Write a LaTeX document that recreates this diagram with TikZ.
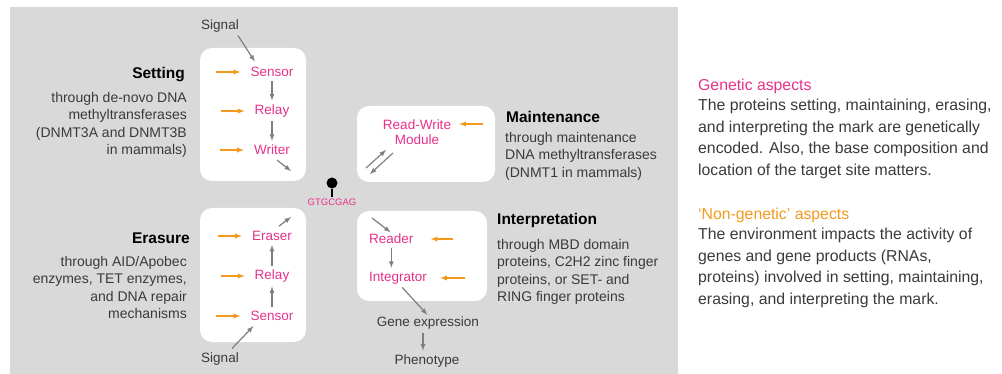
\documentclass[tikz,border=0pt]{standalone}
\usepackage{fontspec}
\setmainfont{Liberation Sans}
\usetikzlibrary{positioning}

\definecolor{epimag}{HTML}{E8318A}
\definecolor{epiorange}{HTML}{F39A1E}
\definecolor{panelgray}{HTML}{D9D9D9}
\definecolor{arrowgray}{HTML}{7F7F7F}
\definecolor{textgray}{HTML}{3A3A3A}

\tikzset{
  card/.style={fill=white, rounded corners=12pt},
  protein/.style={text=epimag, inner sep=1pt, font=\fontsize{13.5}{15}\selectfont},
  plain/.style={text=textgray, inner sep=1pt, font=\fontsize{13.5}{15}\selectfont},
  inarrow/.style={-latex, epiorange, line width=1.3pt},
  flow/.style={-latex, arrowgray, line width=1.2pt, shorten <=3pt, shorten >=3pt},
  heading/.style={text=black, inner sep=0pt, font=\bfseries\fontsize{15.5}{18}\selectfont},
  blurb/.style={text=textgray, inner sep=0pt, font=\fontsize{14}{17.4}\selectfont},
  sidetext/.style={text=textgray, inner sep=0pt, align=left, font=\fontsize{15.8}{21.5}\selectfont},
}

\begin{document}
\begin{tikzpicture}[x=1pt, y=-1pt]
    \useasboundingbox (0,0) rectangle (1002,374);
    \fill[panelgray] (10,7) rectangle (678,374);

    % cards
    \fill[card] (200,48) rectangle (306,181);
    \fill[card] (200,208) rectangle (306,342);
    \fill[card] (357,106) rectangle (495,182);
    \fill[card] (357,211) rectangle (487,301);

    % setting
    \node[heading, anchor=east] (setting) at (185,75) {Setting};
    \node[blurb, align=right, anchor=north east] (settext) at (187,92)
        {through de-novo DNA\\methyltransferases\\(DNMT3A and DNMT3B\\in mammals)};
    \node[plain] (sig1) at (220,26) {Signal};
    \node[protein] (sen1) at (272,72) {Sensor};
    \node[protein] (rel1) at (272,111) {Relay};
    \node[protein] (wri1) at (272,150) {Writer};
    \coordinate (wout) at (291,171);
    \draw[flow] (sen1) -- (rel1);
    \draw[flow] (rel1) -- (wri1);
    \draw[flow, shorten <=0pt] ([shift={(-2,2)}]sig1.south east) -- ([shift={(7,-2)}]sen1.north west);
    \draw[flow, shorten <=0pt, shorten >=0pt] ([shift={(-14,4)}]wri1.south east) -- (wout);
    \foreach \n in {sen1,rel1,wri1}
        \draw[inarrow] ([shift={(-33,0)}]\n.west) -- ([shift={(-9,0)}]\n.west);

    % mark
    \node[circle, fill=black, inner sep=0pt, minimum size=11pt] (mark) at (332,183) {};
    \node[text=epimag, inner sep=1pt, font=\fontsize{9.5}{11}\selectfont] (site) at (332,202) {GTGCGAG};
    \draw[line width=1.1pt] (mark) -- (site.north);

    % erasure
    \node[heading, anchor=east] (erasure) at (190,238) {Erasure};
    \node[blurb, align=right, anchor=north east] (eratext) at (187,256)
        {through AID/Apobec\\enzymes, TET enzymes,\\and DNA repair\\mechanisms};
    \node[plain] (sig2) at (220,359) {Signal};
    \node[protein] (era) at (272,236) {Eraser};
    \node[protein] (rel2) at (272,276) {Relay};
    \node[protein] (sen2) at (272,316) {Sensor};
    \coordinate (eout) at (291,217);
    \draw[flow] (sen2) -- (rel2);
    \draw[flow] (rel2) -- (era);
    \draw[flow, shorten <=0pt] ([shift={(-8,-3)}]sig2.north east) -- ([shift={(6,2)}]sen2.south west);
    \draw[flow, shorten <=0pt, shorten >=0pt] ([shift={(-14,-4)}]era.north east) -- (eout);
    \foreach \n in {era,rel2,sen2}
        \draw[inarrow] ([shift={(-33,0)}]\n.west) -- ([shift={(-9,0)}]\n.west);

    % maintenance
    \node[heading, anchor=west] (maint) at (506,117) {Maintenance};
    \node[blurb, align=left, anchor=north west] (maintext) at (505,132)
        {through maintenance\\DNA methyltransferases\\(DNMT1 in mammals)};
    \node[protein, align=center] (rw) at (417,132) {Read-Write\\Module};
    \coordinate (rwin) at (483,124);
    \coordinate (rwa) at (366,168);
    \coordinate (rwb) at (386,150);
    \coordinate (rwc) at (393,153);
    \coordinate (rwd) at (370,174);
    \draw[inarrow] (rwin) -- ([xshift=7pt]rwin -| rw.east);
    \draw[flow, shorten <=0pt, shorten >=0pt] (rwa) -- (rwb);
    \draw[flow, shorten <=0pt, shorten >=0pt] (rwc) -- (rwd);

    % interpretation
    \node[heading, anchor=west] (interp) at (497,220) {Interpretation};
    \node[blurb, align=left, anchor=north west] (intertext) at (497,239)
        {through MBD domain\\proteins, C2H2 zinc finger\\proteins, or SET- and\\RING finger proteins};
    \node[protein, anchor=west] (rea) at (368,239) {Reader};
    \node[protein, anchor=west] (integ) at (368,278) {Integrator};
    \node[plain] (gene) at (428,323) {Gene expression};
    \node[plain] (pheno) at (427,361) {Phenotype};
    \coordinate (rin) at (372,218);
    \coordinate (rdin) at (453,239);
    \coordinate (idin) at (465,278);
    \draw[flow, shorten <=0pt, shorten >=1pt] (rin) -- (rea.north);
    \draw[flow] (rea.south) -- (rea.south |- integ.north);
    \draw[flow, shorten >=1pt] ([xshift=-28pt]integ.south east) -- (gene.north);
    \draw[flow] ([xshift=-5pt]gene.south) -- ([xshift=-4pt]pheno.north);
    \draw[inarrow] (rdin) -- ([xshift=16pt]rdin -| rea.east);
    \draw[inarrow] (idin) -- ([xshift=12pt]idin -| integ.east);

    % aspects
    \node[text=epimag, inner sep=0pt, anchor=west, font=\fontsize{15.8}{18}\selectfont] (gen) at (698,86) {Genetic aspects};
    \node[sidetext, anchor=north west] (gentext) at (698,99)
        {The proteins setting, maintaining, erasing,\\and interpreting the mark are genetically\\encoded. Also, the base composition and\\location of the target site matters.};
    \node[text=epiorange, inner sep=0pt, anchor=west, font=\fontsize{15.8}{18}\selectfont] (nongen) at (698,215) {`Non-genetic' aspects};
    \node[sidetext, anchor=north west] (nongentext) at (698,228)
        {The environment impacts the activity of\\genes and gene products (RNAs,\\proteins) involved in setting, maintaining,\\erasing, and interpreting the mark.};
\end{tikzpicture}
\end{document}
